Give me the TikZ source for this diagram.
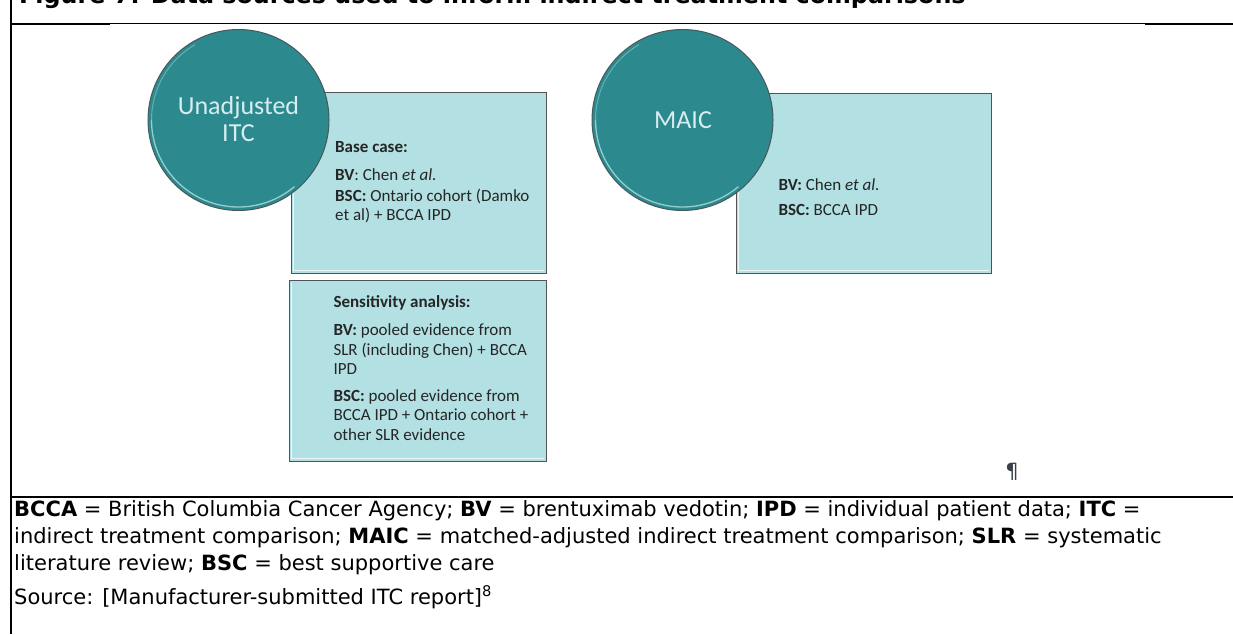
\documentclass[tikz,border=0pt]{standalone}
\usepackage{fontspec}
\setmainfont{Carlito}
\newfontfamily\notefont{DejaVu Sans}
\usetikzlibrary{calc}

\definecolor{circfill}{RGB}{44,137,142}
\definecolor{circedge}{RGB}{70,90,92}
\definecolor{circhi}{RGB}{160,214,216}
\definecolor{circtext}{RGB}{214,238,240}
\definecolor{boxfill}{RGB}{179,224,227}
\definecolor{boxedge}{RGB}{80,84,86}
\definecolor{inktext}{RGB}{38,38,38}
\definecolor{pilcrow}{RGB}{60,64,72}

\tikzset{
  srcbox/.style={draw=boxedge, line width=1pt, fill=boxfill, inner sep=0pt},
  bevel/.style={draw=white, line width=1.2pt, opacity=0.75},
  methodcirc/.style={circle, draw=circedge, line width=1pt, fill=circfill, inner sep=0pt, minimum size=181pt},
  circlabel/.style={text=circtext, font=\fontsize{26}{30}\selectfont, inner sep=0pt, anchor=base},
  boxtxt/.style={text=inktext, font=\fontsize{17}{20}\selectfont, inner sep=0pt, anchor=base west},
  notetxt/.style={text=black, font=\notefont\fontsize{21}{27}\selectfont, inner sep=0pt, anchor=base west},
  rule/.style={draw=black, line width=#1},
}

\begin{document}
\begin{tikzpicture}[x=1pt,y=-1pt]
\useasboundingbox (0,0) rectangle (1233,634);

% caption (its upper part runs off the top of the page)
\node[notetxt, font=\notefont\bfseries\fontsize{23.8}{26}\selectfont] (title) at (19,3.5) {Figure 7: Data sources used to inform indirect treatment comparisons};

% table rules
\coordinate (tl) at (11,0);
\coordinate (bl) at (11,634);
\draw[rule=1.2pt] (tl) -- (bl);
\draw[rule=1pt] (11,23.5) -- (1233,23.5);
\draw[rule=2.6pt] (11,24) -- (110,24);
\draw[rule=2.6pt] (1145,24) -- (1233,24);
\draw[rule=2.4pt] (11,497) -- (1233,497);

% source boxes
\node[srcbox, minimum width=255pt, minimum height=181pt] (basebox) at (418.5,182.5) {};
\node[srcbox, minimum width=257pt, minimum height=181pt] (sensbox) at (417.5,370.5) {};
\node[srcbox, minimum width=255pt, minimum height=180pt] (maicbox) at (863.5,183) {};
\foreach \b in {basebox,sensbox,maicbox}{
  \draw[bevel] ($(\b.north west)+(3,3)$) -- ($(\b.south west)+(3,-3)$) -- ($(\b.south east)+(-3,-3)$);
}

% method circles
\node[methodcirc] (unadj) at (238.5,120) {};
\node[methodcirc] (maic) at (682.5,120) {};
\foreach \c in {unadj,maic}{
  \draw[draw=circhi, line width=1.3pt, opacity=0.9] ($(\c.center)+(-87,0)$) arc[start angle=180, end angle=310, radius=87pt];
  \draw[draw=circhi, line width=1pt, opacity=0.5] ($(\c.center)+(-87,0)$) arc[start angle=180, end angle=120, radius=87pt];
}

\node[circlabel] (unadj1) at (238.5,114) {Unadjusted};
\node[circlabel] (unadj2) at (238.5,141.7) {ITC};
\node[circlabel] (maiclab) at (683,128.3) {MAIC};

% base case
\node[boxtxt] (bc1) at (335,152) {\textbf{Base case:}};
\node[boxtxt] (bc2) at (335,180) {\textbf{BV}: Chen \emph{et al.}};
\node[boxtxt] (bc3) at (335,201) {\textbf{BSC:} Ontario cohort (Damko};
\node[boxtxt] (bc4) at (335,220) {et al) + BCCA IPD};

% sensitivity analysis
\node[boxtxt] (sa1) at (333.3,307.3) {\textbf{Sensitivity analysis:}};
\node[boxtxt] (sa2) at (333.3,335.7) {\textbf{BV:} pooled evidence from};
\node[boxtxt] (sa3) at (333.3,355) {SLR (including Chen) + BCCA};
\node[boxtxt] (sa4) at (333.3,374.3) {IPD};
\node[boxtxt] (sa5) at (333.3,401.7) {\textbf{BSC:} pooled evidence from};
\node[boxtxt] (sa6) at (333.3,420.7) {BCCA IPD + Ontario cohort +};
\node[boxtxt] (sa7) at (333.3,440) {other SLR evidence};

% MAIC
\node[boxtxt] (mc1) at (778.3,190.7) {\textbf{BV:} Chen \emph{et al.}};
\node[boxtxt] (mc2) at (778.3,215.7) {\textbf{BSC:} BCCA IPD};

% paragraph mark
\node[text=pilcrow, font=\notefont\fontsize{21}{22}\selectfont, inner sep=0pt, anchor=base] (para) at (1012,478) {¶};

% notes
\node[notetxt] (n1) at (14,516) {\textbf{BCCA} = British Columbia Cancer Agency; \textbf{BV} = brentuximab vedotin; \textbf{IPD} = individual patient data; \textbf{ITC} =};
\node[notetxt] (n2) at (14,543) {indirect treatment comparison; \textbf{MAIC} = matched-adjusted indirect treatment comparison; \textbf{SLR} = systematic};
\node[notetxt] (n3) at (14,570) {literature review; \textbf{BSC} = best supportive care};
\node[notetxt] (n4) at (14,604) {Source: [Manufacturer-submitted ITC report]\textsuperscript{8}};
\end{tikzpicture}
\end{document}
